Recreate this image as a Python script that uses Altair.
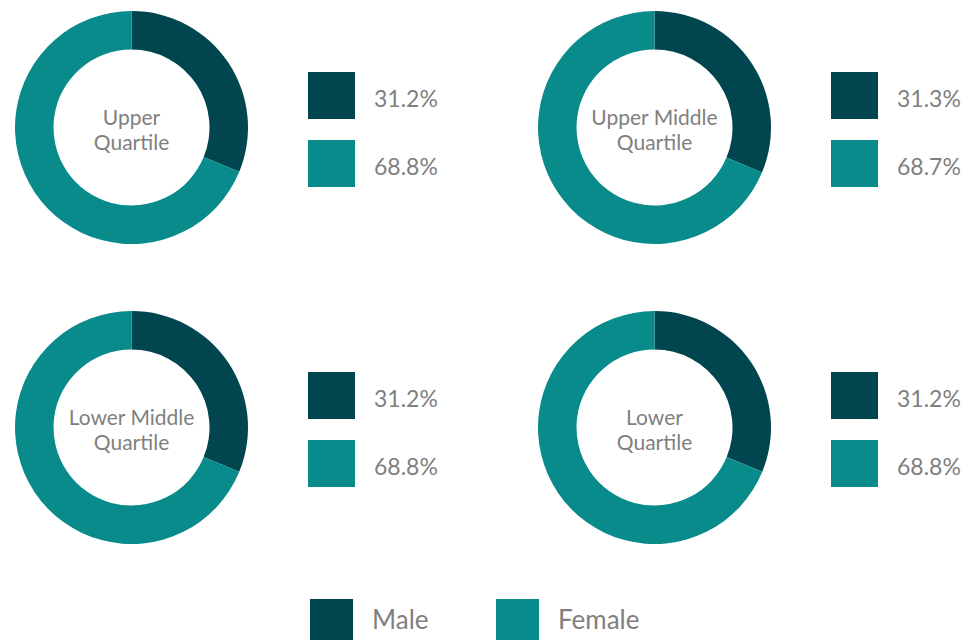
import altair as alt
import pandas as pd

quartiles = ["Upper Quartile", "Upper Middle Quartile", "Lower Middle Quartile", "Lower Quartile"]
centre_labels = ["Upper\nQuartile", "Upper Middle\nQuartile", "Lower Middle\nQuartile", "Lower\nQuartile"]
sexes = ["Male", "Female"]
male_pct = [31.2, 31.3, 31.2, 31.2]
female_pct = [68.8, 68.7, 68.8, 68.8]
colors = ["#01454f", "#088b8a"]

rows = []
for i, q in enumerate(quartiles):
    for j, (s, vals) in enumerate(zip(sexes, [male_pct, female_pct])):
        rows.append({"panel": i, "quartile": q, "centre": centre_labels[i],
                     "sex": s, "ord": j, "pct": vals[i]})
df = pd.DataFrame(rows)

FONT = "Lato"
GREY = "#7f7f7f"

color = alt.Color("sex:N", scale=alt.Scale(domain=sexes, range=colors),
                  legend=alt.Legend(title=None))
yscale = alt.Y("sex:N", scale=alt.Scale(type="point", domain=sexes, range=[87.5, 155.5],
                                        padding=0), axis=None)


def panel(i):
    base = alt.Chart(df).transform_filter(alt.datum.panel == i)
    arc = base.mark_arc(outerRadius=116.5, innerRadius=78).encode(
        x=alt.value(123.5), y=alt.value(119.5),
        theta=alt.Theta("pct:Q", stack=True),
        color=color,
        order=alt.Order("ord:Q"),
    )
    centre = base.transform_filter(alt.datum.sex == "Male").mark_text(
        font=FONT, fontSize=21, color=GREY, lineBreak="\n", lineHeight=25,
        align="center", baseline="middle", dy=-9
    ).encode(x=alt.value(123.5), y=alt.value(119.5), text="centre:N")
    squares = base.mark_square(size=47 * 47, opacity=1).encode(
        x=alt.value(323.5), y=yscale, color=color
    )
    labels = base.transform_calculate(
        label="format(datum.pct, '.1f') + '%'"
    ).mark_text(font=FONT, fontSize=23, color=GREY, align="left",
                baseline="middle", dy=4).encode(
        x=alt.value(366), y=yscale, text="label:N"
    )
    return alt.layer(arc, centre, squares, labels).properties(width=430, height=280)


chart = alt.vconcat(
    alt.hconcat(panel(0), panel(1), spacing=93),
    alt.hconcat(panel(2), panel(3), spacing=93),
    spacing=20,
).configure_view(
    stroke=None
).configure_legend(
    orient="none", legendX=302, legendY=591, direction="horizontal",
    symbolType="square", symbolSize=43 * 43, symbolStrokeWidth=0,
    labelFont=FONT, labelFontSize=26, labelColor=GREY, labelOffset=19,
    columnPadding=67, symbolOpacity=1
).properties(padding=0)

chart.save("out.html", embed_options={"renderer": "svg", "actions": False})
